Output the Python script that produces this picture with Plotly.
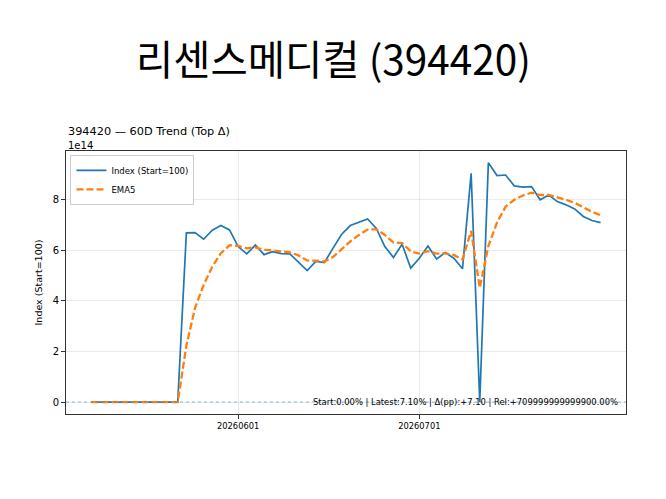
import plotly.graph_objects as go

# trading days (YYYYMMDD) for the 60-day window
dates = [
    '20260506', '20260507', '20260508', '20260511', '20260512', '20260513',
    '20260514', '20260515', '20260518', '20260519', '20260520', '20260521',
    '20260522', '20260526', '20260527', '20260528', '20260529', '20260601',
    '20260602', '20260604', '20260605', '20260608', '20260609', '20260610',
    '20260611', '20260612', '20260615', '20260616', '20260617', '20260618',
    '20260619', '20260622', '20260623', '20260624', '20260625', '20260626',
    '20260629', '20260630', '20260701', '20260702', '20260703', '20260706',
    '20260707', '20260708', '20260709', '20260710', '20260713', '20260714',
    '20260715', '20260716', '20260717', '20260720', '20260721', '20260722',
    '20260723', '20260724', '20260727', '20260728', '20260729', '20260730',
]

# index values, in units of 1e14
index_vals = [
    0, 0, 0, 0, 0, 0, 0, 0, 0, 0, 0,
    6.69, 6.70, 6.44, 6.80, 6.98, 6.81, 6.15, 5.86, 6.21, 5.83,
    5.95, 5.87, 5.86, 5.55, 5.20, 5.56, 5.52, 6.09, 6.64, 6.98,
    7.11, 7.24, 6.88, 6.15, 5.72, 6.24, 5.30, 5.69, 6.17, 5.66,
    5.91, 5.69, 5.27, 9.05, 0.00, 9.47, 8.96, 8.98, 8.55, 8.50,
    8.52, 8.00, 8.19, 7.93, 7.80, 7.64, 7.34, 7.18, 7.10,
]

# EMA5 line, in units of 1e14
ema5_vals = [
    0, 0, 0, 0, 0, 0, 0, 0, 0, 0, 0,
    2.23, 3.72, 4.63, 5.35, 5.89, 6.20, 6.18, 6.08, 6.12, 6.02,
    6.00, 5.96, 5.92, 5.80, 5.60, 5.59, 5.56, 5.74, 6.04, 6.35,
    6.61, 6.82, 6.84, 6.61, 6.31, 6.29, 5.96, 5.87, 5.97, 5.87,
    5.88, 5.82, 5.64, 6.77, 4.52, 6.17, 7.10, 7.73, 8.00, 8.17,
    8.28, 8.19, 8.19, 8.10, 8.00, 7.88, 7.70, 7.53, 7.39,
]

x_ticks = ['20260601', '20260701']
y_ticks = [0, 2, 4, 6, 8]

title = '리센스메디컬 (394420)'
subtitle = '394420 — 60D Trend (Top Δ)'
summary = 'Start:0.00% | Latest:7.10% | Δ(pp):+7.10 | Rel:+709999999999900.00%'

BASE_FONT = 'DejaVu Sans'
PAGE_OFFSET = 8  # the page body adds a default margin around the figure
PLOT_LEFT, PLOT_RIGHT = 66, 626
PLOT_TOP, PLOT_BOTTOM = 151, 414


def paper_y(py):
    # convert a pixel row of the page into paper coordinates
    return (PLOT_BOTTOM - py) / (PLOT_BOTTOM - PLOT_TOP)


fig = go.Figure()

fig.add_trace(go.Scatter(
    x=dates, y=index_vals, mode='lines', name='Index (Start=100)',
    line=dict(color='#1f77b4', width=1.7)))
fig.add_trace(go.Scatter(
    x=dates, y=ema5_vals, mode='lines', name='EMA5',
    line=dict(color='#ff7f0e', width=2.3, dash='7px,3px')))

# zero reference line
fig.add_shape(type='line', xref='paper', yref='y', x0=0, x1=1, y0=0, y1=0,
              line=dict(color='rgba(31,119,180,0.5)', width=1, dash='dot'))

left = PLOT_LEFT - PAGE_OFFSET
top = PLOT_TOP - PAGE_OFFSET
fig.update_layout(
    width=666, height=499,
    paper_bgcolor='white', plot_bgcolor='white',
    margin=dict(l=left, r=666 - left - (PLOT_RIGHT - PLOT_LEFT), t=top,
                b=499 - top - (PLOT_BOTTOM - PLOT_TOP)),
    font=dict(family=BASE_FONT, color='black', size=9),
    showlegend=True,
    legend=dict(x=0.008, y=0.985, xanchor='left', yanchor='top',
                bgcolor='rgba(255,255,255,0.9)', bordercolor='#cccccc',
                borderwidth=1, font=dict(size=8.5, family=BASE_FONT),
                tracegroupgap=0, itemwidth=30),
)

fig.update_xaxes(
    type='category', categoryorder='array', categoryarray=dates,
    range=[-2.95, 61.95], tickmode='array', tickvals=x_ticks, ticktext=x_ticks,
    showgrid=True, gridcolor='rgba(0,0,0,0.08)', gridwidth=1,
    showline=True, linecolor='#333333', linewidth=1, mirror=True,
    ticks='outside', ticklen=4, tickcolor='#333333', automargin=False,
    tickfont=dict(size=8.3, family=BASE_FONT), zeroline=False)

fig.update_yaxes(
    range=[-0.473, 9.93], tickmode='array', tickvals=y_ticks,
    ticktext=[str(v) for v in y_ticks],
    showgrid=True, gridcolor='rgba(0,0,0,0.08)', gridwidth=1,
    showline=True, linecolor='#333333', linewidth=1, mirror=True,
    ticks='outside', ticklen=4, tickcolor='#333333', automargin=False,
    tickfont=dict(size=10, family=BASE_FONT), zeroline=False,
    title=dict(text='Index (Start=100)', font=dict(size=9.5, family=BASE_FONT),
               standoff=8))

# big title
fig.add_annotation(text=title, xref='paper', yref='paper',
                   x=(333 - PLOT_LEFT) / (PLOT_RIGHT - PLOT_LEFT), y=paper_y(57),
                   xanchor='center', yanchor='middle', showarrow=False,
                   font=dict(family='Noto Sans CJK KR', size=40.5, color='black'))

# subplot title
fig.add_annotation(text=subtitle, xref='paper', yref='paper', x=0,
                   y=paper_y(131), xanchor='left', yanchor='middle',
                   showarrow=False, font=dict(size=11.3, family=BASE_FONT))

# axis offset label
fig.add_annotation(text='1e14', xref='paper', yref='paper', x=0,
                   y=paper_y(145), xanchor='left', yanchor='middle',
                   showarrow=False, font=dict(size=10, family=BASE_FONT))

# summary text bottom right
fig.add_annotation(text=summary, xref='paper', yref='paper', x=0.99, y=0.02,
                   xanchor='right', yanchor='bottom', showarrow=False,
                   font=dict(size=8.4, family=BASE_FONT))

fig.write_html('out.html')
